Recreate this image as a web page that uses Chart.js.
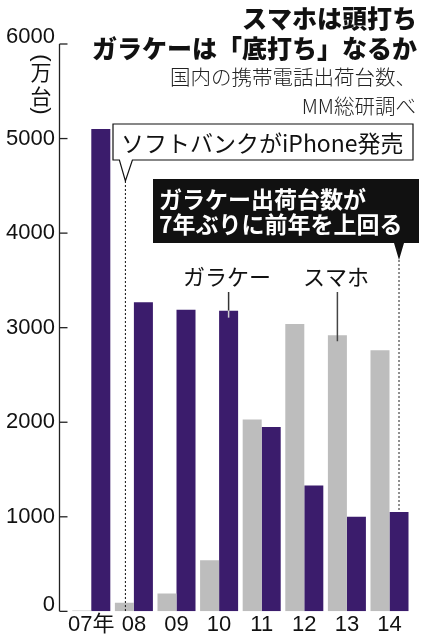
<!DOCTYPE html>
<html><head><meta charset="utf-8">
<script src="https://cdn.jsdelivr.net/npm/chart.js@4.4.1/dist/chart.umd.min.js"></script>
<style>html,body{margin:0;padding:0;background:#fff;} canvas{display:block}</style>
</head><body>
<canvas id="c" width="428" height="640"></canvas>
<script>
// ---- data ----
const categories = ['07年','08','09','10','11','12','13','14'];
const smartphone = [10, 90, 190, 540, 2030, 3040, 2920, 2760];
const featurePhone = [5100, 3270, 3190, 3180, 1950, 1330, 1000, 1050];
const yTicks = [0, 1000, 2000, 3000, 4000, 5000, 6000];
const seriesNames = ['スマホ', 'ガラケー'];
const titleLines = ['スマホは頭打ち', 'ガラケーは「底打ち」なるか'];
const sourceLines = ['国内の携帯電話出荷台数、', 'MM総研調べ'];
const unitLabel = ['(', '万', '台', ')'];
const note1 = 'ソフトバンクがiPhone発売';
const note2 = ['ガラケー出荷台数が', '7年ぶりに前年を上回る'];

const JP = '"Noto Sans CJK JP", sans-serif';
const NUM = '"Liberation Sans", Arial, "Noto Sans CJK JP", sans-serif';
const PURPLE = '#3b1c6c';
const GRAY = '#bdbdbd';

const deco = {
  id: 'deco',
  afterDraw(chart) {
    const { ctx, chartArea: ca, scales: { y } } = chart;
    const m0 = chart.getDatasetMeta(0).data, m1 = chart.getDatasetMeta(1).data;
    ctx.save();
    // axis line with inward ticks
    const ax = ca.left - 10.5;
    ctx.strokeStyle = '#222'; ctx.lineWidth = 1.3;
    ctx.beginPath(); ctx.moveTo(ax, y.getPixelForValue(yTicks[yTicks.length-1])); ctx.lineTo(ax, y.getPixelForValue(0)); ctx.stroke();
    yTicks.forEach(v => { const py = y.getPixelForValue(v); ctx.beginPath(); ctx.moveTo(ax, py); ctx.lineTo(ax + 8, py); ctx.stroke(); });

    // unit label (vertical)
    ctx.fillStyle = '#111'; ctx.textAlign = 'center'; ctx.textBaseline = 'middle';
    ctx.font = '21px ' + JP;
    ctx.fillText(unitLabel[1], 41, 72);
    ctx.fillText(unitLabel[2], 41, 96);
    ctx.font = '22px ' + NUM;
    [[unitLabel[0], 58], [unitLabel[3], 111]].forEach(([ch, py]) => {
      ctx.save(); ctx.translate(41, py); ctx.rotate(Math.PI / 2);
      ctx.fillText(ch, 0, 0); ctx.restore();
    });

    // titles
    ctx.textAlign = 'right';
    ctx.font = '900 25px ' + JP;
    ctx.fillText(titleLines[0], 417, 18);
    ctx.fillText(titleLines[1], 417, 48);
    ctx.fillStyle = '#222';
    ctx.font = '300 20.5px ' + JP;
    ctx.fillText(sourceLines[0], 416, 77);
    ctx.fillText(sourceLines[1], 416, 106);

    // note 1 (white callout) anchored to 08 smartphone bar
    const b1 = m0[1];
    const tx1 = b1.x + 1;
    ctx.fillStyle = '#fff'; ctx.strokeStyle = '#111'; ctx.lineWidth = 1.2;
    ctx.beginPath();
    ctx.moveTo(113, 124); ctx.lineTo(413, 124); ctx.lineTo(413, 160);
    ctx.lineTo(tx1 + 7, 160); ctx.lineTo(tx1, 181); ctx.lineTo(tx1 - 6, 160);
    ctx.lineTo(113, 160); ctx.closePath(); ctx.fill(); ctx.stroke();
    ctx.fillStyle = '#111'; ctx.textAlign = 'left';
    ctx.font = '23px ' + JP;
    ctx.fillText(note1, 121, 143);
    ctx.setLineDash([2, 2]); ctx.lineWidth = 1;
    ctx.beginPath(); ctx.moveTo(tx1, 181); ctx.lineTo(tx1, y.getPixelForValue(0)); ctx.stroke();
    ctx.setLineDash([]);

    // note 2 (black callout) anchored to 14 feature phone bar
    const b2 = m1[7];
    const tx2 = b2.x;
    ctx.fillStyle = '#111';
    ctx.beginPath();
    ctx.moveTo(153, 179); ctx.lineTo(419, 179); ctx.lineTo(419, 243);
    ctx.lineTo(tx2 + 5, 243); ctx.lineTo(tx2, 260); ctx.lineTo(tx2 - 5, 243);
    ctx.lineTo(153, 243); ctx.closePath(); ctx.fill();
    ctx.fillStyle = '#fff';
    ctx.font = 'bold 23px ' + JP;
    ctx.fillText(note2[0], 159, 199);
    ctx.fillText(note2[1], 159, 224);
    ctx.strokeStyle = '#222';
    ctx.setLineDash([2, 2]); ctx.lineWidth = 1;
    ctx.beginPath(); ctx.moveTo(tx2, 260); ctx.lineTo(tx2, b2.y); ctx.stroke();
    ctx.setLineDash([]);

    // series labels with leaders
    ctx.fillStyle = '#111';
    ctx.font = '22px ' + JP;
    ctx.textAlign = 'center';
    const g = m1[3], s = m0[6];
    ctx.fillText(seriesNames[1], 227, 277);
    ctx.fillText(seriesNames[0], 336, 277);
    ctx.lineWidth = 1.5;
    ctx.strokeStyle = '#333';
    ctx.beginPath(); ctx.moveTo(g.x, 292); ctx.lineTo(g.x, g.y); ctx.stroke();
    ctx.strokeStyle = '#cfcfcf';
    ctx.beginPath(); ctx.moveTo(g.x, g.y); ctx.lineTo(g.x, g.y + 7); ctx.stroke();
    ctx.strokeStyle = '#444';
    ctx.beginPath(); ctx.moveTo(s.x, 292); ctx.lineTo(s.x, s.y + 6); ctx.stroke();
    ctx.restore();
  }
};

new Chart(document.getElementById('c'), {
  type: 'bar',
  data: {
    labels: categories,
    datasets: [
      { label: seriesNames[0], data: smartphone, backgroundColor: GRAY },
      { label: seriesNames[1], data: featurePhone, backgroundColor: PURPLE }
    ]
  },
  options: {
    responsive: false,
    devicePixelRatio: 1,
    animation: false,
    categoryPercentage: 0.8925,
    barPercentage: 1.0,
    layout: { padding: { top: 44, right: 17.2, left: 0, bottom: 0 } },
    plugins: { legend: { display: false }, tooltip: { enabled: false }, title: { display: false } },
    scales: {
      x: {
        grid: { display: false, drawTicks: false },
        border: { display: false },
        ticks: { color: '#111', font: { family: NUM, size: 22 }, padding: 0, maxRotation: 0, autoSkip: false },
        afterFit: s => { s.height = 25.7; }
      },
      y: {
        min: 0, max: 6000,
        grid: { display: false, drawTicks: false },
        border: { display: false },
        afterBuildTicks: s => { s.ticks = yTicks.map(v => ({ value: v })); },
        ticks: {
          color: '#111',
          padding: 15,
          font: ctx => ({ family: NUM, size: 22, lineHeight: (ctx.tick && (ctx.tick.value === 0 || ctx.tick.value === 6000)) ? 0.62 : 1.2 }),
          callback: v => (v === 0 || v === 6000) ? [String(v), ''] : String(v)
        },
        afterFit: s => { s.width = 70; }
      }
    }
  },
  plugins: [deco]
});
</script>
</body></html>
